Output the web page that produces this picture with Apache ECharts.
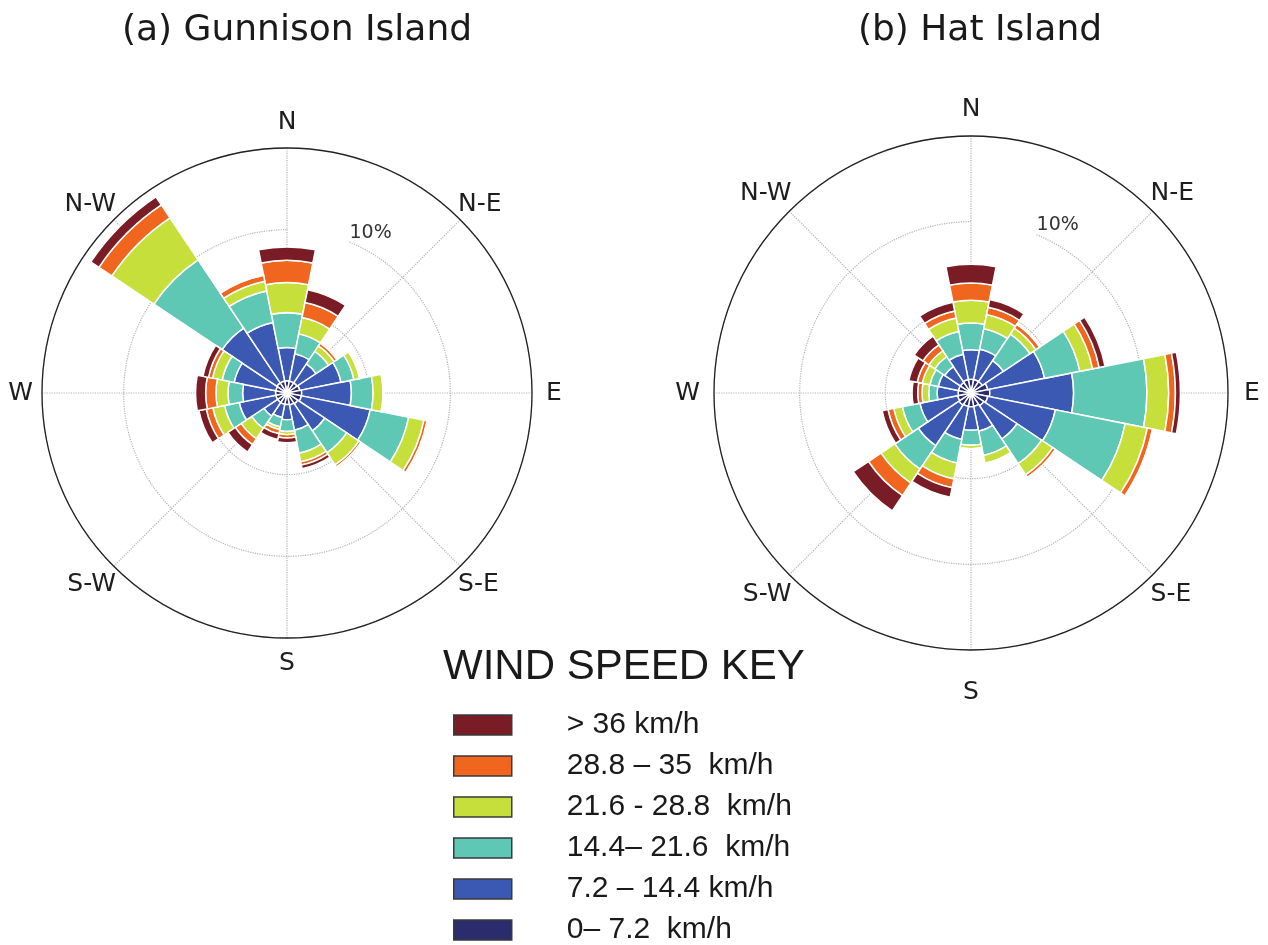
<!DOCTYPE html>
<html>
<head>
<meta charset="utf-8">
<script src="https://cdn.jsdelivr.net/npm/echarts@6/dist/echarts.min.js"></script>
<style>
  html, body { margin: 0; padding: 0; background: #ffffff; }
  #chart { width: 1268px; height: 945px; }
</style>
</head>
<body>
<div id="chart"></div>
<script>
// 16 compass sectors, clockwise from north
const directions = ['N', 'NNE', 'NE', 'ENE', 'E', 'ESE', 'SE', 'SSE', 'S', 'SSW', 'SW', 'WSW', 'W', 'WNW', 'NW', 'NNW'];
// labelled compass points (every second sector)
const compassTicks = ['N', 'N-E', 'E', 'S-E', 'S', 'S-W', 'W', 'N-W'];
// radial rings (percent of time) and the ring that carries a label
const radialMax = 15;
const radialStep = 5;
const radialLabels = { 10: '10%' };

// speed classes, strongest first (key order)
const speedBins = ['> 36 km/h', '28.8 – 35  km/h', '21.6 - 28.8  km/h', '14.4– 21.6  km/h', '7.2 – 14.4 km/h', '0– 7.2  km/h'];
const binColors = ['#7a1c25', '#f1661f', '#c7df3b', '#5ec8b4', '#3b58b3', '#2a2c6e'];

// Gunnison Island: frequency (%) per sector for each speed class
const gunnison0to7   = [0.75, 0.75, 0.75, 0.80, 0.90, 0.90, 0.80, 0.75, 0.70, 0.70, 0.70, 0.70, 0.70, 0.70, 0.75, 0.75];
const gunnison7to14  = [2.03, 1.70, 1.39, 2.57, 3.04, 4.30, 1.98, 1.58, 0.93, 0.83, 1.00, 2.28, 2.02, 2.60, 4.03, 3.65];
const gunnison14to22 = [2.14, 1.24, 0.92, 0.81, 1.33, 2.40, 1.62, 1.43, 0.72, 0.59, 0.90, 0.92, 0.89, 0.75, 5.02, 1.97];
const gunnison22to29 = [1.84, 1.02, 0.41, 0.35, 0.61, 0.95, 0.90, 0.54, 0.20, 0.18, 0.77, 0.73, 0.74, 0.60, 3.10, 0.61];
const gunnison29to36 = [1.36, 0.94, 0.20, 0.08, 0.05, 0.20, 0.15, 0.20, 0.20, 0.25, 0.43, 0.41, 0.63, 0.25, 0.95, 0.37];
const gunnisonOver36 = [0.82, 0.80, 0.08, 0.00, 0.00, 0.00, 0.00, 0.23, 0.30, 0.35, 0.55, 0.46, 0.62, 0.35, 0.60, 0.00];

// Hat Island: frequency (%) per sector for each speed class
const hat0to7   = [0.80, 0.80, 0.80, 1.00, 1.10, 1.00, 0.90, 0.80, 0.80, 0.80, 0.85, 0.80, 0.75, 0.75, 0.75, 0.80];
const hat7to14  = [1.73, 1.81, 1.48, 3.38, 4.89, 4.02, 2.33, 1.48, 1.38, 1.96, 2.85, 2.24, 1.23, 1.20, 1.10, 1.50];
const hat14to22 = [1.56, 1.22, 1.86, 2.10, 4.28, 4.16, 1.73, 1.44, 0.87, 1.40, 1.65, 1.05, 0.49, 0.50, 0.70, 1.36];
const hat22to29 = [1.32, 0.84, 0.41, 0.76, 1.27, 1.32, 0.78, 0.46, 0.20, 0.96, 0.97, 0.51, 0.39, 0.45, 0.41, 0.80];
const hat29to36 = [1.01, 0.43, 0.27, 0.39, 0.39, 0.30, 0.19, 0.00, 0.00, 0.52, 0.88, 0.34, 0.25, 0.30, 0.41, 0.42];
const hatOver36 = [1.09, 0.46, 0.05, 0.35, 0.29, 0.05, 0.00, 0.00, 0.00, 0.56, 1.07, 0.35, 0.33, 0.50, 0.62, 0.52];

const stations = [
  {
    title: '(a) Gunnison Island', stack: 'gunnison',
    bins: [gunnison0to7, gunnison7to14, gunnison14to22, gunnison22to29, gunnison29to36, gunnisonOver36],
    center: [287, 393], radius: 245, titleX: 297,
    pad: {
      N: [0, 0, 16, 0], E: [0, 0, 0, 17], S: [16, 0, 0, 0], W: [0, 12, 0, 0],
      NE: [0, 0, 5, 0], NW: [0, 0, 5, 0], SE: [8, 0, 0, 0], SW: [8, 0, 0, 0]
    }
  },
  {
    title: '(b) Hat Island', stack: 'hat',
    bins: [hat0to7, hat7to14, hat14to22, hat22to29, hat29to36, hatOver36],
    center: [971, 393], radius: 257, titleX: 980,
    pad: {
      N: [0, 0, 17, 0], E: [0, 0, 0, 19], S: [33, 0, 0, 0], W: [0, 17, 0, 0],
      NE: [0, 0, 7, 0], NW: [0, 0, 7, 0], SE: [9, 0, 0, 0], SW: [9, 0, 0, 0]
    }
  }
];

const FONT = 'DejaVu Sans';
const gridLine = { type: 'dotted', color: '#b3b3b3', width: 1.2 };
// every second sector of the ring (starting at NNE) is a labelled compass point
const isMajor = (i) => i % 2 === 1;
const compassName = (v) => compassTicks[directions.indexOf(v) / 2];

const polar = [], angleAxis = [], radiusAxis = [], series = [], title = [];

stations.forEach((st, s) => {
  const gridIdx = s * 2, barIdx = s * 2 + 1;
  polar.push({ center: st.center, radius: st.radius });
  polar.push({ center: st.center, radius: st.radius });

  // ring categories start at NNE so the radial axis (and its label) sits on that bearing
  const ringCats = directions.slice(1).concat(directions.slice(0, 1)).map((d) => {
    const item = { value: d };
    if (st.pad[d]) item.textStyle = { padding: st.pad[d] };
    return item;
  });

  angleAxis.push({
    polarIndex: gridIdx, type: 'category', data: ringCats, boundaryGap: false,
    startAngle: 67.5, clockwise: true, z: 0,
    axisLine: { show: false },
    axisTick: { show: true, length: 0, interval: isMajor, lineStyle: { opacity: 0 } },
    axisLabel: { interval: isMajor, margin: -3, formatter: compassName,
                 fontFamily: FONT, fontSize: 25, color: '#1e1e1e' },
    splitLine: { show: true, interval: isMajor, lineStyle: gridLine }
  });
  // sector axis for the bars; its axis line is the outer ring
  angleAxis.push({
    polarIndex: barIdx, type: 'category', data: directions, boundaryGap: true,
    startAngle: 90 + 360 / directions.length / 2, clockwise: true,
    axisLine: { show: true, lineStyle: { color: '#222', width: 1.3 } },
    axisTick: { show: false }, axisLabel: { show: false }, splitLine: { show: false }
  });

  radiusAxis.push({
    polarIndex: gridIdx, type: 'value', min: 0, max: radialMax, interval: radialStep, z: 0,
    axisLine: { show: false }, axisTick: { show: false },
    splitLine: { show: true, lineStyle: gridLine },
    axisLabel: { margin: 0, formatter: (v) => radialLabels[v] || '', align: 'left', verticalAlign: 'bottom',
                 fontFamily: FONT, fontSize: 19, color: '#333' }
  });
  radiusAxis.push({ polarIndex: barIdx, type: 'value', min: 0, max: radialMax, show: false });

  // stacked from calm (inside) to strongest (outside)
  st.bins.forEach((vals, b) => {
    const k = speedBins.length - 1 - b;
    series.push({
      type: 'bar', name: speedBins[k], coordinateSystem: 'polar', polarIndex: barIdx,
      stack: st.stack, data: vals, barCategoryGap: '0%', silent: true,
      itemStyle: { color: binColors[k], borderColor: '#ffffff', borderWidth: 1.5 }
    });
  });

  title.push({
    text: st.title, left: st.titleX, top: 13, textAlign: 'center', padding: 0,
    textStyle: { fontFamily: FONT, fontSize: 36, fontWeight: 'normal', color: '#1a1a1a' }
  });
});

title.push({
  text: 'WIND SPEED KEY', left: 443, top: 646, padding: 0,
  textStyle: { fontFamily: 'Liberation Sans', fontSize: 42, fontWeight: 'normal', color: '#1a1a1a' }
});

const chart = echarts.init(document.getElementById('chart'), null, { renderer: 'canvas' });
chart.setOption({
  backgroundColor: '#ffffff',
  animation: false,
  title: title,
  polar: polar,
  angleAxis: angleAxis,
  radiusAxis: radiusAxis,
  legend: {
    data: speedBins, orient: 'vertical', left: 453, top: 710, height: 260, padding: 0,
    itemWidth: 58, itemHeight: 20, itemGap: 11, icon: 'rect', selectedMode: false,
    itemStyle: { borderColor: '#3a3a3a', borderWidth: 1.5 },
    textStyle: { fontFamily: 'Liberation Sans', fontSize: 30, color: '#1a1a1a', padding: [0, 0, 0, 50] }
  },
  series: series
});
</script>
</body>
</html>
